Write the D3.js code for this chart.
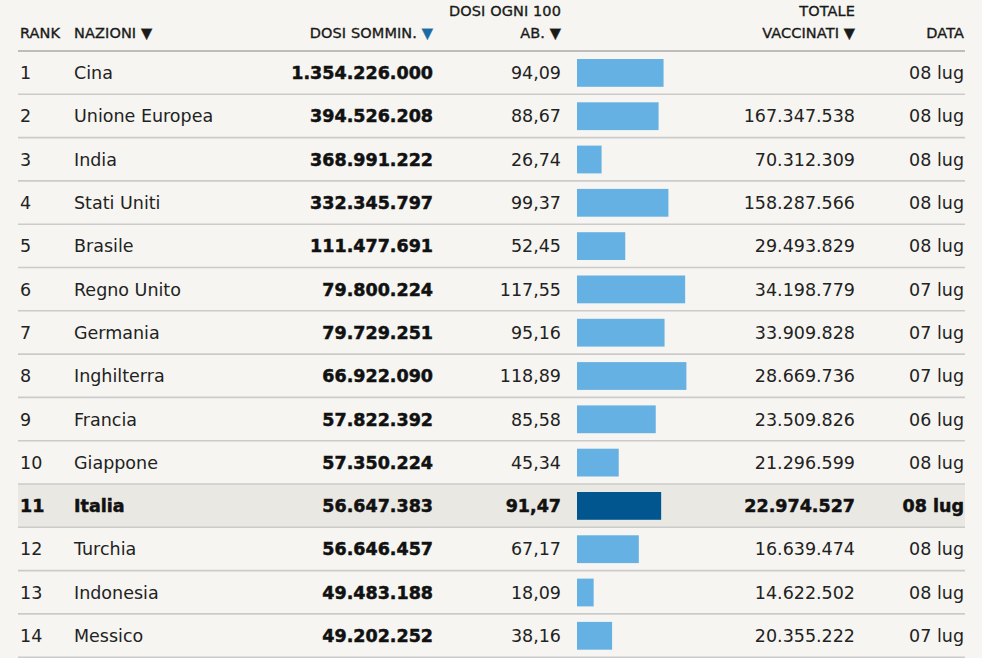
<!DOCTYPE html>
<html>
<head>
<meta charset="utf-8">
<script src="https://cdn.jsdelivr.net/npm/d3@7"></script>
<style>
  body { margin: 0; background: #f6f5f1; }
  svg { display: block; font-family: "DejaVu Sans", sans-serif; }
</style>
</head>
<body>
<svg width="982" height="658"></svg>
<script>
// dati della tabella
const ranks = [1, 2, 3, 4, 5, 6, 7, 8, 9, 10, 11, 12, 13, 14];
const nazioni = ["Cina", "Unione Europea", "India", "Stati Uniti", "Brasile", "Regno Unito",
    "Germania", "Inghilterra", "Francia", "Giappone", "Italia", "Turchia", "Indonesia", "Messico"];
const dosiSommin = [1354226000, 394526208, 368991222, 332345797, 111477691, 79800224,
    79729251, 66922090, 57822392, 57350224, 56647383, 56646457, 49483188, 49202252];
const dosiOgni100 = [94.09, 88.67, 26.74, 99.37, 52.45, 117.55, 95.16, 118.89, 85.58,
    45.34, 91.47, 67.17, 18.09, 38.16];
const totaleVaccinati = [null, 167347538, 70312309, 158287566, 29493829, 34198779,
    33909828, 28669736, 23509826, 21296599, 22974527, 16639474, 14622502, 20355222];
const dateAgg = ["08 lug", "08 lug", "08 lug", "08 lug", "08 lug", "07 lug", "07 lug",
    "07 lug", "06 lug", "08 lug", "08 lug", "08 lug", "08 lug", "07 lug"];
const evidenziato = "Italia";

const rows = nazioni.map((n, i) => ({
    rank: ranks[i], nome: n, dosi: dosiSommin[i], per100: dosiOgni100[i],
    totale: totaleVaccinati[i], data: dateAgg[i]
}));

const it = d3.formatLocale({ decimal: ",", thousands: ".", grouping: [3], currency: ["", " €"] });
const fInt = it.format(",d");
const fDec = it.format(",.2f");

const svg = d3.select("svg");

const left = 18, right = 965;
const tableTop = 51, rowH = 43.3;

const y = d3.scaleBand()
    .domain(rows.map(d => d.nome))
    .range([tableTop, tableTop + rowH * rows.length])
    .paddingInner(0);

const barX = 577;
const x = d3.scaleLinear().domain([0, 120]).range([0, 110.4]);

// intestazione
const head = svg.append("g")
    .attr("font-size", 14.5)
    .attr("fill", "#1a1a1a")
    .attr("stroke", "#1a1a1a")
    .attr("stroke-width", 0.35);

function headText(txt, xp, yp, anchor) {
    return head.append("text")
        .attr("x", xp).attr("y", yp)
        .attr("text-anchor", anchor)
        .attr("letter-spacing", 0.1)
        .text(txt);
}

headText("RANK", 20, 38, "start");
const naz = headText("NAZIONI ", 74, 38, "start");
naz.append("tspan").text("▼");
const dsm = headText("DOSI SOMMIN. ", 433, 38, "end");
dsm.append("tspan").attr("fill", "#1b6aa5").attr("stroke", "#1b6aa5").text("▼");
headText("DOSI OGNI 100", 561, 16, "end");
headText("AB. ▼", 561, 38, "end");
headText("TOTALE", 855, 16, "end");
headText("VACCINATI ▼", 855, 38, "end");
headText("DATA", 964, 38, "end");

// righe
const g = svg.selectAll(".riga")
    .data(rows)
    .enter()
    .append("g")
    .classed("riga", true)
    .attr("transform", d => `translate(0,${y(d.nome)})`);

g.filter(d => d.nome === evidenziato)
    .append("rect")
    .attr("x", left)
    .attr("y", 0)
    .attr("width", right - left)
    .attr("height", y.bandwidth())
    .attr("fill", "#e9e8e3");

g.append("rect")
    .attr("x", barX)
    .attr("y", 8)
    .attr("width", d => x(d.per100))
    .attr("height", y.bandwidth() - 15.5)
    .attr("fill", d => d.nome === evidenziato ? "#02568f" : "#65b1e3");

const mid = y.bandwidth() / 2 + 6.5;

function cell(xp, anchor, fn, boldAlways) {
    const isBold = d => boldAlways || d.nome === evidenziato;
    g.append("text")
        .attr("x", xp)
        .attr("y", mid)
        .attr("text-anchor", anchor)
        .attr("font-size", 17.5)
        .attr("font-weight", d => isBold(d) ? "bold" : "normal")
        .attr("fill", d => isBold(d) ? "#111" : "#222")
        .attr("stroke", d => isBold(d) ? "#111" : "none")
        .attr("stroke-width", 0.5)
        .text(fn);
}

cell(20, "start", d => d.rank, false);
cell(74, "start", d => d.nome, false);
cell(433, "end", d => fInt(d.dosi), true);
cell(561, "end", d => fDec(d.per100), false);
cell(855, "end", d => d.totale == null ? "" : fInt(d.totale), false);
cell(964, "end", d => d.data, false);

// linee di separazione
svg.selectAll(".sep")
    .data(d3.range(rows.length + 1))
    .enter()
    .append("line")
    .classed("sep", true)
    .attr("x1", left)
    .attr("x2", right)
    .attr("y1", i => tableTop + i * rowH)
    .attr("y2", i => tableTop + i * rowH)
    .attr("stroke", i => i === 0 ? "#bdbdbd" : "#cbcbcb")
    .attr("stroke-width", i => i === 0 ? 2 : 1.6);
</script>
</body>
</html>
